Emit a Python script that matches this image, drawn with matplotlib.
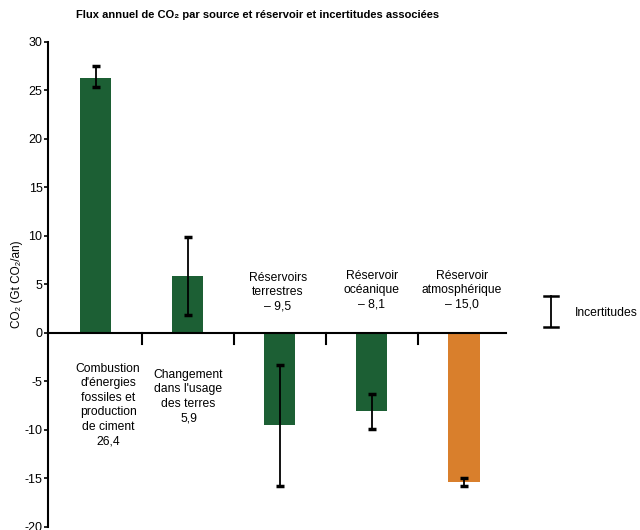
import matplotlib
matplotlib.use("Agg")
import matplotlib.pyplot as plt
import numpy as np

plt.rcParams['font.family'] = ['Liberation Sans', 'DejaVu Sans']

categories = ["Combustion\nd'énergies\nfossiles et\nproduction\nde ciment\n26,4",
              "Changement\ndans l'usage\ndes terres\n5,9",
              "Réservoirs\nterrestres\n– 9,5",
              "Réservoir\nocéanique\n– 8,1",
              "Réservoir\natmosphérique\n– 15,0"]
values = [26.3, 5.9, -9.5, -8.1, -15.4]
err_low = [25.3, 1.8, -15.8, -9.9, -15.8]
err_high = [27.5, 9.9, -3.3, -6.3, -15.0]
colors = ['#1c5f34', '#1c5f34', '#1c5f34', '#1c5f34', '#d97f2c']
yticks = [-20, -15, -10, -5, 0, 5, 10, 15, 20, 25, 30]

fig = plt.figure(figsize=(6.4, 5.3), dpi=100)
ax = fig.add_axes([0.075, 0.006, 0.716, 0.915])

x = np.arange(len(values))
vals = np.array(values)
ax.bar(x, vals, width=0.34, color=colors, zorder=2)
yerr = [vals - np.array(err_low), np.array(err_high) - vals]
ax.errorbar(x, vals, yerr=yerr, fmt='none', ecolor='black', elinewidth=1.3,
            capsize=3, capthick=2.5, zorder=3)

ax.set_xlim(-0.516, 4.46)
ax.set_ylim(-20, 30)
ax.set_yticks(yticks)
ax.set_yticklabels([str(t) for t in yticks], fontsize=9)
ax.tick_params(axis='y', length=3, width=1.2, pad=1)

ax.spines['top'].set_visible(False)
ax.spines['right'].set_visible(False)
ax.spines['left'].set_linewidth(1.5)
ax.spines['bottom'].set_position(('data', 0))
ax.spines['bottom'].set_linewidth(1.5)
ax.set_xticks([0.5, 1.5, 2.5, 3.5])
ax.set_xticklabels([])
ax.tick_params(axis='x', direction='in', length=0)
for xt in [0.5, 1.5, 2.5, 3.5]:
    ax.plot([xt, xt], [0, -1.1], color='black', lw=1.5, zorder=4, clip_on=False)

ax.set_ylabel('CO₂ (Gt CO₂/an)', fontsize=8.5, labelpad=1)

# category labels
label_pos = [(0.136, -3.1), (1.01, -3.7), (1.98, 6.3), (3.0, 6.5), (3.98, 6.5)]
for lab, (lx, ly) in zip(categories, label_pos):
    ax.text(lx, ly, lab, ha='center', va='top', fontsize=8.7, linespacing=1.27)

# legend: uncertainty symbol
fig.lines.append(plt.Line2D([551/640, 551/640], [1-296/530, 1-327/530], color='black', lw=1.3, transform=fig.transFigure))
for yy in [296, 327]:
    fig.lines.append(plt.Line2D([544/640, 558/640], [1-yy/530, 1-yy/530], color='black', lw=1.8, transform=fig.transFigure))
fig.text(575/640, 1-313/530, 'Incertitudes', ha='left', va='center', fontsize=8.7)

fig.text(258/640, 1-15/530, 'Flux annuel de CO₂ par source et réservoir et incertitudes associées',
         ha='center', va='center', fontsize=8, fontweight='bold')

fig.savefig('out.png', dpi=100)
